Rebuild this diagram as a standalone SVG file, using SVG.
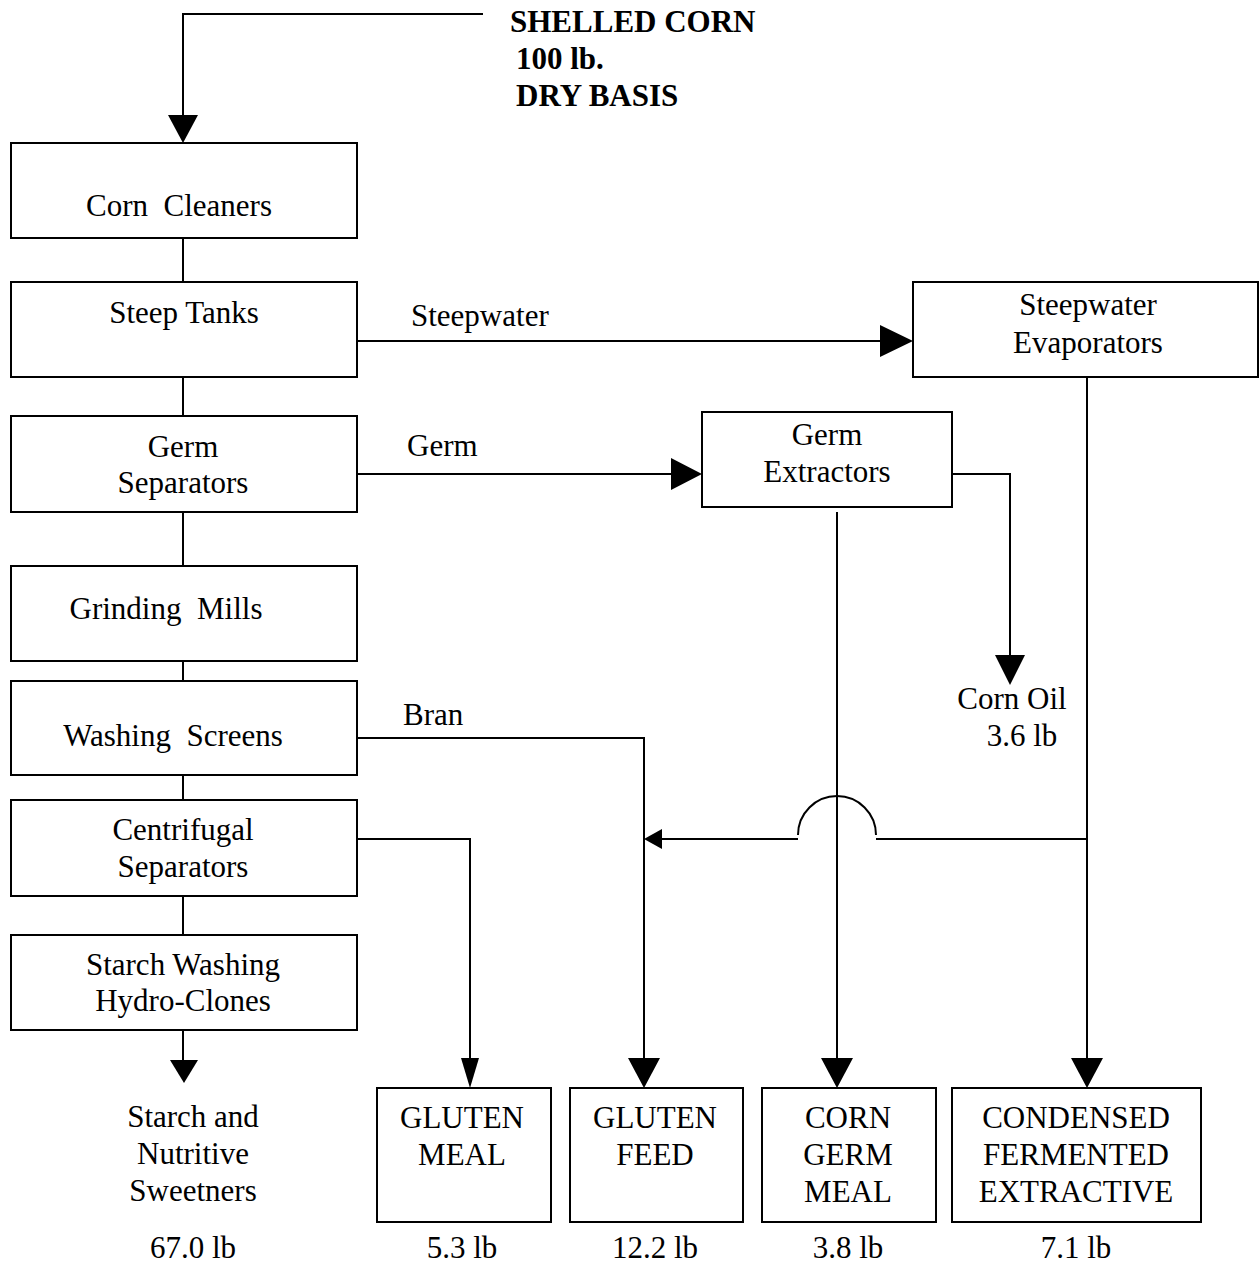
<svg xmlns="http://www.w3.org/2000/svg" width="1259" height="1269" viewBox="0 0 1259 1269">
<style>
.box{fill:#fff;stroke:#000;stroke-width:2}
.ln{fill:none;stroke:#000;stroke-width:2}
.t{font-family:"Liberation Serif","Times New Roman",serif;font-size:31px;fill:#000;text-anchor:middle}
.tl{font-family:"Liberation Serif","Times New Roman",serif;font-size:31px;fill:#000}
.b{font-family:"Liberation Serif","Times New Roman",serif;font-size:31px;font-weight:bold;fill:#000}
.ah{fill:#000}
</style>
<rect width="1259" height="1269" fill="#fff"/>
<g id="connectors">
  <polyline class="ln" points="483,14 183,14 183,118"/>
  <polygon class="ah" points="168,115 198,115 183,143"/>
  <line class="ln" x1="183" y1="238" x2="183" y2="282"/>
  <line class="ln" x1="183" y1="377" x2="183" y2="416"/>
  <line class="ln" x1="183" y1="512" x2="183" y2="566"/>
  <line class="ln" x1="183" y1="661" x2="183" y2="681"/>
  <line class="ln" x1="183" y1="775" x2="183" y2="800"/>
  <line class="ln" x1="183" y1="896" x2="183" y2="935"/>
  <line class="ln" x1="183" y1="1030" x2="183" y2="1062"/>
  <polygon class="ah" points="170,1060 198,1060 184,1083"/>
  <line class="ln" x1="357" y1="341" x2="884" y2="341"/>
  <polygon class="ah" points="880,325 913,341 880,357"/>
  <line class="ln" x1="357" y1="474" x2="674" y2="474"/>
  <polygon class="ah" points="671,458 702,474 671,490"/>
  <polyline class="ln" points="952,474 1010,474 1010,660"/>
  <polygon class="ah" points="995,655 1025,655 1010,685"/>
  <line class="ln" x1="837" y1="512" x2="837" y2="1062"/>
  <polygon class="ah" points="821,1058 853,1058 837,1088"/>
  <line class="ln" x1="1087" y1="377" x2="1087" y2="1062"/>
  <polygon class="ah" points="1071,1058 1103,1058 1087,1088"/>
  <line class="ln" x1="1087" y1="839" x2="876" y2="839"/>
  <path class="ln" d="M798,835 A39,39 0 0 1 876,835"/>
  <line class="ln" x1="798" y1="839" x2="660" y2="839"/>
  <polygon class="ah" points="644,839 662,829 662,849"/>
  <polyline class="ln" points="357,738 644,738 644,1062"/>
  <polygon class="ah" points="628,1058 660,1058 644,1088"/>
  <polyline class="ln" points="357,839 470,839 470,1062"/>
  <polygon class="ah" points="461,1058 479,1058 470,1088"/>
</g>
<g id="input-label">
  <text class="b" x="510" y="32">SHELLED CORN</text>
  <text class="b" x="516" y="69">100 lb.</text>
  <text class="b" x="516" y="106">DRY BASIS</text>
</g>
<g id="corn-cleaners">
  <rect class="box" x="11" y="143" width="346" height="95"/>
  <text class="t" x="179" y="216" xml:space="preserve">Corn  Cleaners</text>
</g>
<g id="steep-tanks">
  <rect class="box" x="11" y="282" width="346" height="95"/>
  <text class="t" x="184" y="323">Steep Tanks</text>
</g>
<g id="germ-separators">
  <rect class="box" x="11" y="416" width="346" height="96"/>
  <text class="t" x="183" y="457">Germ</text>
  <text class="t" x="183" y="493">Separators</text>
</g>
<g id="grinding-mills">
  <rect class="box" x="11" y="566" width="346" height="95"/>
  <text class="t" x="166" y="619" xml:space="preserve">Grinding  Mills</text>
</g>
<g id="washing-screens">
  <rect class="box" x="11" y="681" width="346" height="94"/>
  <text class="t" x="173" y="746" xml:space="preserve">Washing  Screens</text>
</g>
<g id="centrifugal-separators">
  <rect class="box" x="11" y="800" width="346" height="96"/>
  <text class="t" x="183" y="840">Centrifugal</text>
  <text class="t" x="183" y="877">Separators</text>
</g>
<g id="starch-washing">
  <rect class="box" x="11" y="935" width="346" height="95"/>
  <text class="t" x="183" y="975">Starch Washing</text>
  <text class="t" x="183" y="1011">Hydro-Clones</text>
</g>
<g id="steepwater-evaporators">
  <rect class="box" x="913" y="282" width="345" height="95"/>
  <text class="t" x="1088" y="315">Steepwater</text>
  <text class="t" x="1088" y="353">Evaporators</text>
</g>
<g id="germ-extractors">
  <rect class="box" x="702" y="412" width="250" height="95"/>
  <text class="t" x="827" y="445">Germ</text>
  <text class="t" x="827" y="482">Extractors</text>
</g>
<g id="edge-labels">
  <text class="tl" x="411" y="326">Steepwater</text>
  <text class="tl" x="407" y="456">Germ</text>
  <text class="tl" x="403" y="725">Bran</text>
</g>
<g id="corn-oil">
  <text class="t" x="1012" y="709">Corn Oil</text>
  <text class="t" x="1022" y="746">3.6 lb</text>
</g>
<g id="starch-output">
  <text class="t" x="193" y="1127">Starch and</text>
  <text class="t" x="193" y="1164">Nutritive</text>
  <text class="t" x="193" y="1201">Sweetners</text>
  <text class="t" x="193" y="1258">67.0 lb</text>
</g>
<g id="gluten-meal">
  <rect class="box" x="377" y="1088" width="174" height="134"/>
  <text class="t" x="462" y="1128">GLUTEN</text>
  <text class="t" x="462" y="1165">MEAL</text>
  <text class="t" x="462" y="1258">5.3 lb</text>
</g>
<g id="gluten-feed">
  <rect class="box" x="570" y="1088" width="173" height="134"/>
  <text class="t" x="655" y="1128">GLUTEN</text>
  <text class="t" x="655" y="1165">FEED</text>
  <text class="t" x="655" y="1258">12.2 lb</text>
</g>
<g id="corn-germ-meal">
  <rect class="box" x="762" y="1088" width="174" height="134"/>
  <text class="t" x="848" y="1128">CORN</text>
  <text class="t" x="848" y="1165">GERM</text>
  <text class="t" x="848" y="1202">MEAL</text>
  <text class="t" x="848" y="1258">3.8 lb</text>
</g>
<g id="condensed-fermented-extractive">
  <rect class="box" x="952" y="1088" width="249" height="134"/>
  <text class="t" x="1076" y="1128">CONDENSED</text>
  <text class="t" x="1076" y="1165">FERMENTED</text>
  <text class="t" x="1076" y="1202">EXTRACTIVE</text>
  <text class="t" x="1076" y="1258">7.1 lb</text>
</g>
</svg>
